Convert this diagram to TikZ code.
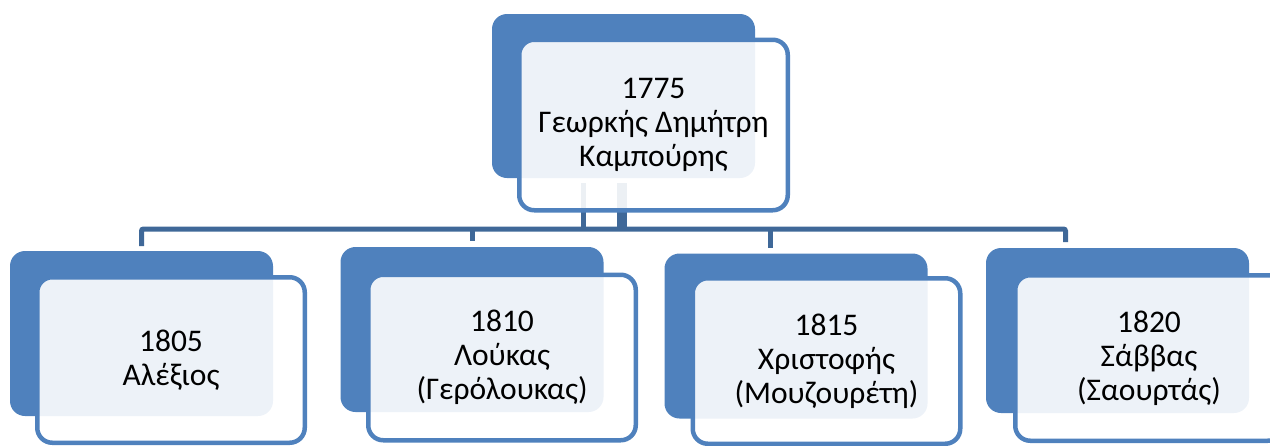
\documentclass[tikz,border=0pt]{standalone}
\usepackage{fontspec}
\setmainfont{Carlito}
\definecolor{accent}{HTML}{4F81BD}
\definecolor{conncol}{HTML}{3F6898}
\begin{document}
\begin{tikzpicture}[x=1pt,y=-1pt,
  back/.style={fill=accent, draw=none, rounded corners=15pt, minimum width=263pt, minimum height=165pt, inner sep=0pt, outer sep=0pt},
  front/.style={fill=white, fill opacity=0.9, text opacity=1, draw=accent, draw opacity=1, line width=4.5pt, rounded corners=15pt, minimum width=267.5pt, minimum height=165.5pt, inner sep=0pt, outer sep=0pt, align=center, font=\fontsize{31.5}{34}\selectfont},
  conn/.style={draw=conncol, line width=5pt}]
\useasboundingbox (0,0) rectangle (1270,445);
\clip (0,0) rectangle (1270,445);
% back shapes
\node[back, minimum height=164pt] (b0) at (623.5,96) {};
\node[back] (b1) at (141.5,333.5) {};
\node[back] (b2) at (472,329.5) {};
\node[back] (b3) at (796,336) {};
\node[back] (b4) at (1117.5,330.5) {};
% connector coordinates
\coordinate (p1) at (583.5,183);
\coordinate (p2) at (622,183);
\coordinate (q1) at (583.5,229);
\coordinate (q2) at (622,229);
\coordinate (j1) at (141.5,229);
\coordinate (j2) at (472.5,229);
\coordinate (j3) at (770.5,229);
\coordinate (j4) at (1065.5,229);
\coordinate (d1) at (141.5,246);
\coordinate (d2) at (472.5,241);
\coordinate (d3) at (770.5,248);
\coordinate (d4) at (1065.5,242);
% connectors
\draw[conn] (p1) -- (q1);
\draw[conn, line width=10pt] (p2) -- (q2);
\draw[conn, rounded corners=2pt] (d1) -- (j1) -- (j4) -- (d4);
\draw[conn] (j2) -- (d2);
\draw[conn] (j3) -- (d3);
% front shapes
\node[front, minimum width=268.5pt, minimum height=170.5pt] (f0) at (653.5,125) {1775\\Γεωρκής Δημήτρη\\Καμπούρης};
\node[front] (f1) at (171,360) {1805\\Αλέξιος};
\node[front] (f2) at (502,357.5) {1810\\Λούκας\\(Γερόλουκας)};
\node[front] (f3) at (826.5,361) {1815\\Χριστοφής\\(Μουζουρέτη)};
\node[front] (f4) at (1149,358) {1820\\Σάββας\\(Σαουρτάς)};
\end{tikzpicture}
\end{document}
